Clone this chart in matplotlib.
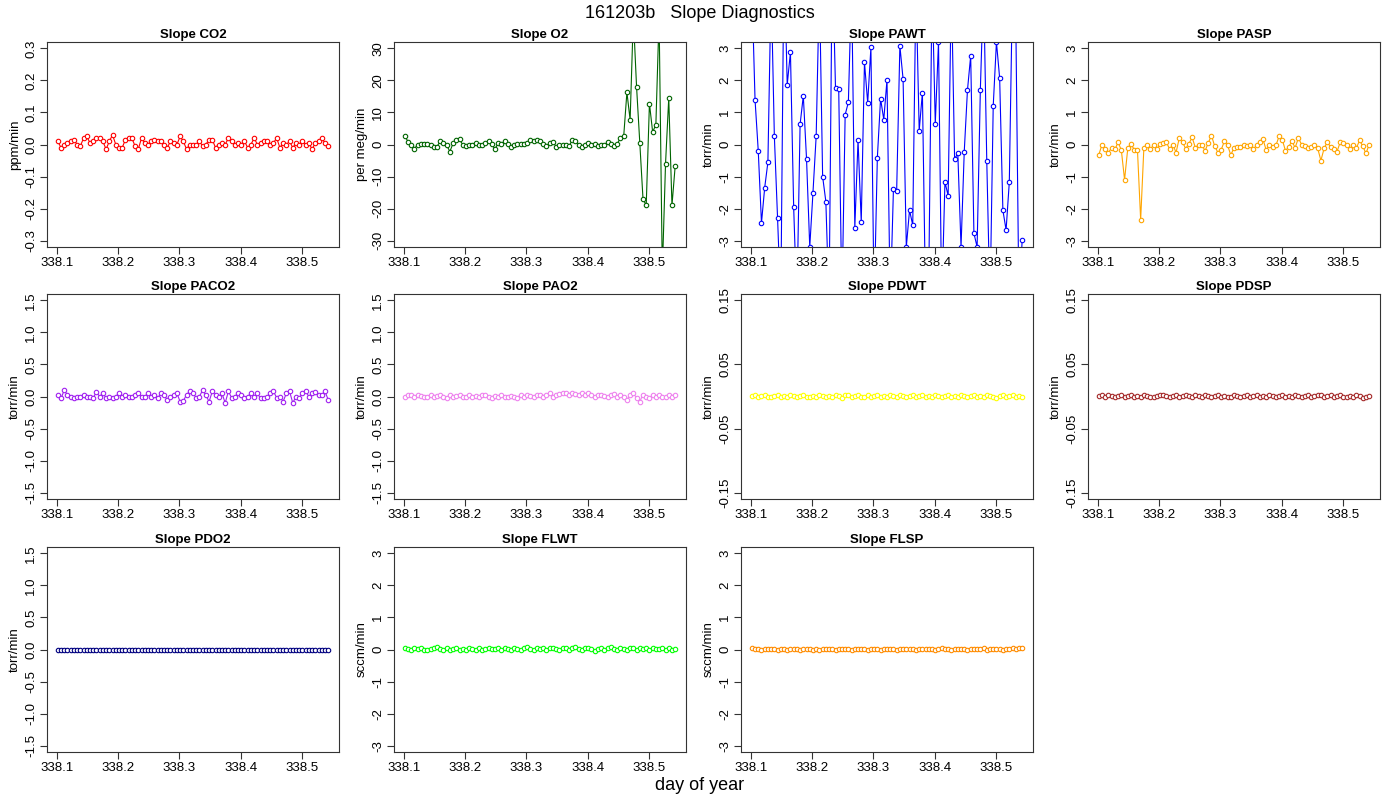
import numpy as np
import matplotlib
matplotlib.use("Agg")
import matplotlib.pyplot as plt

plt.rcParams["font.family"] = "Liberation Sans"

x_start, x_end = 338.102, 338.542
xticks = [338.1, 338.2, 338.3, 338.4, 338.5]

co2 = [0.01,-0.01,0.0,0.005,0.01,0.015,0.0,-0.005,0.02,0.025,0.005,0.01,0.02,0.02,0.01,-0.015,0.01,0.03,0.0,-0.01,-0.01,0.015,0.02,0.02,-0.005,-0.015,0.02,0.005,0.0,0.01,0.015,0.01,0.01,0.0,-0.01,0.01,0.005,0.0,0.025,0.01,-0.015,0.0,0.0,0.0,0.01,-0.005,0.0,0.015,0.015,-0.01,0.0,0.005,0.0,0.02,0.01,0.0,0.005,0.0,0.01,-0.01,0.0,0.02,0.0,0.005,0.01,0.01,0.0,0.005,0.02,-0.01,0.005,0.0,0.01,-0.01,0.005,0.0,0.01,0.0,0.005,-0.015,0.005,0.01,0.02,0.005,-0.005]
o2 = [2.8,0.8,-0.2,-1.3,0,0.1,0.3,0.3,0,-0.8,-0.7,1.1,0.5,-0.2,-2.2,0.4,1.3,1.6,-0.1,-0.5,0,0,0.6,-0.2,0,0.4,1,0.1,-1.5,0.5,0.2,1,0.3,-0.8,-0.1,0.2,0.2,0.2,0.5,1.3,1.2,1.4,1,0.2,-0.5,0.4,0.9,-0.7,-0.1,0,-0.1,-0.5,1.3,1.1,-0.1,-0.9,-0.1,0.5,-0.3,0.2,-0.5,-0.1,-0.3,0.9,0.2,-0.5,0.2,2.1,2.5,16.3,7.7,40,18,0.6,-17,-19,12.8,3.9,6.2,40,-40,-6,14.5,-19,-6.7]
pawt = [5,1.4,-0.2,-2.45,-1.35,-0.55,5,0.27,-2.3,-5,6,1.87,2.88,-1.95,-5,0.63,1.52,-0.45,-3.2,-1.5,0.27,5,-1.0,-1.78,-5,6,1.75,1.72,-5,0.93,1.32,5,-2.6,0.13,-2.42,2.57,1.3,3.03,-5,-0.42,1.43,0.78,2.02,-5,-1.4,-1.45,3.08,2.04,-3.2,-2.05,-2.52,5,0.43,1.62,-5,-4,5,0.65,3.2,-5,-1.17,-1.6,5,-0.45,-0.28,-3.2,-0.22,1.7,2.77,-2.77,-3.2,1.7,5,-0.53,-5,1.2,3.2,2.07,-2.05,-2.67,-1.17,5,4,-5,-2.97]
pasp = [-0.32,0.0,-0.15,-0.25,-0.1,-0.15,0.07,-0.18,-1.1,-0.12,0.03,-0.17,-0.16,-2.35,-0.1,-0.02,-0.15,-0.02,-0.15,0.02,0.05,0.07,-0.15,0.0,-0.25,0.2,0.07,-0.13,0.03,0.22,-0.1,0.0,0.0,-0.2,0.05,0.28,-0.05,-0.25,-0.17,0.1,-0.02,-0.33,-0.1,-0.08,-0.08,-0.03,-0.05,-0.03,-0.15,-0.03,0.07,0.17,-0.18,0.0,-0.08,-0.03,0.25,0.15,-0.2,-0.07,0.1,-0.1,0.2,0.0,-0.05,-0.1,-0.08,0.0,-0.12,-0.5,-0.12,0.08,-0.08,-0.15,-0.22,0.07,0.05,0.0,-0.15,0.0,-0.12,0.13,-0.05,-0.28,0.0]
paco2 = [0.02,-0.03,0.1,0.02,0.0,-0.02,0.0,0.0,0.02,0.0,0.0,-0.02,0.07,0.0,0.05,-0.02,0.0,-0.02,0.0,0.05,0.0,0.02,0.0,0.0,0.02,0.05,0.0,0.0,0.05,0.0,0.02,-0.03,0.05,0.02,-0.05,0.0,0.03,0.05,-0.08,-0.07,0.03,0.08,0.05,-0.02,0.0,0.1,0.02,-0.08,0.08,0.02,0.0,0.05,-0.1,0.08,-0.02,0.0,0.05,0.02,-0.02,0.0,0.05,0.0,0.05,-0.03,-0.02,0.0,0.05,0.08,-0.02,0.0,-0.08,0.05,0.08,-0.1,0.0,-0.02,0.05,0.08,0.0,0.05,0.07,0.02,0.03,0.08,-0.05]
pao2 = [0.0,0.02,0.03,0.0,0.02,0.01,0.0,-0.01,0.02,0.0,0.01,0.02,0.0,-0.02,0.03,0.0,0.01,0.02,0.0,-0.01,0.02,0.0,0.01,0.0,0.02,0.03,0.0,-0.02,0.01,0.0,0.02,0.0,-0.01,0.01,0.0,-0.02,0.03,0.0,0.02,0.01,0.0,0.02,0.03,0.0,0.02,0.05,0.0,0.02,0.04,0.05,0.06,0.03,0.05,0.04,0.02,0.05,0.03,0.05,0.02,0.0,0.03,0.02,0.01,0.0,0.02,0.04,0.0,0.03,0.0,-0.05,0.02,0.05,-0.02,-0.08,0.03,0.0,-0.03,0.02,0.0,0.02,0.0,-0.01,0.02,0.0,0.02]
pdwt = [0.001,0.002,0.0,0.001,0.002,0.0,-0.001,0.001,0.002,0.0,0.001,0.0,0.002,0.001,0.0,0.001,0.002,0.0,-0.001,0.001,0.0,0.002,0.001,0.0,0.001,0.0,0.002,0.001,-0.003,0.003,0.002,0.0,0.001,0.002,-0.001,0.0,0.002,0.0,0.001,0.002,0.0,0.001,0.0,0.002,0.001,0.0,0.002,0.001,0.0,0.001,0.002,0.0,0.001,0.002,0.0,0.001,0.0,0.002,0.001,0.0,0.001,0.002,0.0,0.001,0.0,0.002,0.001,0.0,0.001,0.002,0.0,0.001,0.0,0.002,0.001,0.0,-0.002,0.001,0.002,0.0,0.001,0.002,0.0,0.001,0.0]
pdsp = [0.001,0.002,0.0,0.002,0.001,-0.001,0.001,0.002,0.0,0.001,0.002,0.0,0.001,0.0,0.002,0.001,-0.001,0.0,0.001,0.002,0.002,0.001,0.0,0.001,0.002,0.0,0.001,0.002,0.001,0.0,0.002,0.001,0.0,0.002,0.001,0.0,0.001,0.002,0.0,0.001,-0.001,0.0,0.002,0.001,0.0,0.001,0.002,0.0,0.001,0.002,0.0,0.001,0.0,0.002,0.001,0.0,0.001,0.002,0.0,0.001,0.0,0.002,0.001,0.0,0.001,0.002,0.0,0.001,0.003,0.002,0.0,0.001,0.002,0.0,0.001,0.002,0.0,-0.001,0.001,0.0,0.002,0.001,-0.002,0.0,0.001]
pdo2 = [0.0] * 85
flwt = [0.05,0.03,0.0,0.05,0.02,0.04,0.0,-0.03,0.02,0.05,0.08,0.03,0.0,0.05,-0.02,0.02,0.05,0.0,0.03,-0.02,0.05,0.02,0.0,0.04,-0.03,0.02,0.05,0.01,0.03,0.06,0.0,0.04,0.02,-0.02,0.05,0.03,0.0,0.05,0.07,0.02,-0.03,0.04,0.02,0.05,0.0,0.04,0.06,0.02,-0.02,0.04,0.05,0.0,0.06,0.08,0.02,0.0,0.04,0.05,0.02,-0.04,0.03,0.05,0.0,0.05,0.08,0.02,0.0,0.05,0.03,-0.02,0.04,0.05,0.0,0.06,0.02,0.04,0.0,0.05,0.03,0.02,0.04,0.0,0.05,0.0,0.02]
flsp = [0.04,0.02,0.03,0.0,0.02,0.03,0.01,0.03,-0.01,0.02,0.03,0.0,0.02,0.03,0.01,0.0,0.02,0.03,0.01,-0.01,0.02,0.0,0.03,0.02,0.01,0.03,0.0,0.02,0.03,0.01,0.02,0.0,0.03,0.02,0.01,0.03,0.0,0.02,0.03,0.01,0.0,0.02,0.03,0.01,0.02,0.0,0.03,0.02,0.01,0.03,0.02,0.0,0.02,0.03,0.01,0.02,0.03,0.0,0.02,0.04,0.01,0.02,0.0,0.03,0.02,0.01,0.03,0.0,0.02,0.03,0.01,0.02,0.04,0.0,0.02,0.03,0.01,0.02,0.0,0.03,0.02,0.04,0.03,0.05,0.06]

panels = [
    ("Slope CO2", co2, "#FF0000", "ppm/min", 0.32, [-0.3,-0.2,-0.1,0.0,0.1,0.2,0.3]),
    ("Slope O2", o2, "#006400", "per meg/min", 32, [-30,-20,-10,0,10,20,30]),
    ("Slope PAWT", pawt, "#0000FF", "torr/min", 3.2, [-3,-2,-1,0,1,2,3]),
    ("Slope PASP", pasp, "#FFA500", "torr/min", 3.2, [-3,-2,-1,0,1,2,3]),
    ("Slope PACO2", paco2, "#A020F0", "torr/min", 1.6, [-1.5,-1.0,-0.5,0.0,0.5,1.0,1.5]),
    ("Slope PAO2", pao2, "#EE82EE", "torr/min", 1.6, [-1.5,-1.0,-0.5,0.0,0.5,1.0,1.5]),
    ("Slope PDWT", pdwt, "#FFFF00", "torr/min", 0.16, [-0.15,-0.05,0.05,0.15]),
    ("Slope PDSP", pdsp, "#A52A2A", "torr/min", 0.16, [-0.15,-0.05,0.05,0.15]),
    ("Slope PDO2", pdo2, "#000080", "torr/min", 1.6, [-1.5,-1.0,-0.5,0.0,0.5,1.0,1.5]),
    ("Slope FLWT", flwt, "#00FF00", "sccm/min", 3.2, [-3,-2,-1,0,1,2,3]),
    ("Slope FLSP", flsp, "#FF8C00", "sccm/min", 3.2, [-3,-2,-1,0,1,2,3]),
]

W, H = 1400, 800
fig = plt.figure(figsize=(14, 8), dpi=100)
lefts = [47, 394, 741, 1088]
tops = [42, 294, 547]
pw, ph = 292, 205
span = x_end - x_start
for i, (title, vals, col, ylab, lim, yt) in enumerate(panels):
    r, c = divmod(i, 4)
    ax = fig.add_axes([lefts[c]/W, 1 - (tops[r]+ph)/H, pw/W, ph/H])
    xs = np.linspace(x_start, x_end, len(vals))
    ax.plot(xs, vals, color=col, lw=0.8)
    ax.plot(xs, vals, ls="none", marker="o", ms=3.2, mfc="white", mec=col, mew=0.8)
    ax.set_xlim(x_start - 0.04*span, x_end + 0.04*span)
    ax.set_ylim(-lim, lim)
    ax.set_xticks(xticks)
    ax.set_xticklabels([f"{t:.1f}" for t in xticks], fontsize=9.5)
    ax.set_yticks(yt)
    ax.set_yticklabels([f"{t:g}" if abs(lim) >= 3 else f"{t:.2f}" if lim < 0.2 else f"{t:.1f}" for t in yt], fontsize=9.5, rotation=90, va="center")
    ax.set_ylabel(ylab, fontsize=9.5, labelpad=3)
    ax.set_title(title, fontsize=9.5, fontweight="bold", pad=3)
    ax.tick_params(direction="out", length=5, pad=2, color="#333333")
    for s in ax.spines.values():
        s.set_linewidth(0.8)
        s.set_color("#333333")
fig.text(0.5, 1 - 13/H, "161203b   Slope Diagnostics", ha="center", va="center", fontsize=13)
fig.text(0.5, 1 - 785/H, "day of year", ha="center", va="center", fontsize=13)
fig.savefig("out.png", dpi=100)
